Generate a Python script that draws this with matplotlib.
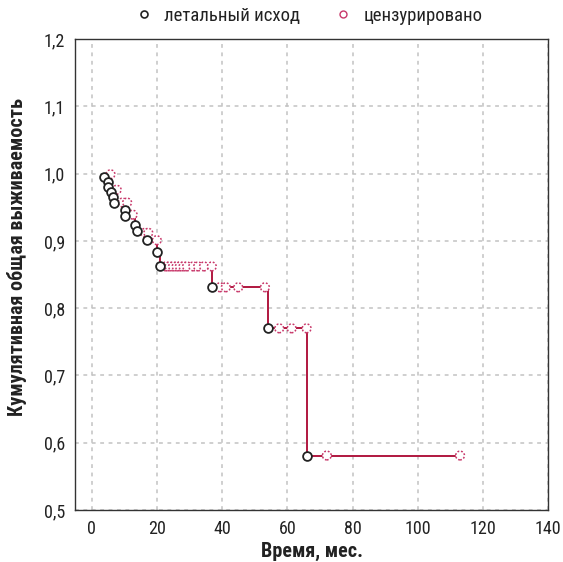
import matplotlib
matplotlib.use("Agg")
import matplotlib.pyplot as plt
from matplotlib import font_manager
from matplotlib.lines import Line2D

# ---- data ----
event_times = [3.7, 4.9, 4.9, 5.9, 6.5, 6.75, 10.0, 10.0, 13.3, 13.9, 16.8, 20.0, 20.9, 36.8, 53.9, 65.9]
event_surv = [0.995, 0.988, 0.980, 0.973, 0.965, 0.956, 0.946, 0.937, 0.924, 0.914, 0.901, 0.883, 0.862, 0.831, 0.770, 0.581]

cens_times = [5.7, 7.6, 9.4, 10.8, 12.5, 16.3, 17.3, 19.9,
              22.7, 23.8, 24.9, 26.0, 27.0, 28.1, 29.2, 31.1, 32.6, 34.4, 36.8,
              39.3, 41.1, 44.9, 53.1,
              57.5, 61.3, 65.9,
              72.1, 113.0]
cens_surv = [0.999, 0.976, 0.957, 0.957, 0.939, 0.912, 0.912, 0.901,
             0.862, 0.862, 0.862, 0.862, 0.862, 0.862, 0.862, 0.862, 0.862, 0.862, 0.862,
             0.831, 0.831, 0.831, 0.831,
             0.770, 0.770, 0.770,
             0.581, 0.581]

x_ticks = [0, 20, 40, 60, 80, 100, 120, 140]
y_ticks = [0.5, 0.6, 0.7, 0.8, 0.9, 1.0, 1.1, 1.2]
y_tick_labels = ["0,5", "0,6", "0,7", "0,8", "0,9", "1,0", "1,1", "1,2"]
legend_labels = ["летальный исход", "цензурировано"]
x_label = "Время, мес."
y_label = "Кумулятивная общая выживаемость"

# ---- fonts ----
names = {f.name for f in font_manager.fontManager.ttflist}
cands = ["Roboto Condensed", "PT Sans Narrow", "Fira Sans Condensed", "IBM Plex Sans Condensed",
         "Open Sans Condensed", "Liberation Sans Narrow", "Archivo Narrow", "Oswald"]
fam = next((c for c in cands if c in names), "DejaVu Sans")
plt.rcParams["font.family"] = [fam, "DejaVu Sans"]

line_col = "#b0173f"
cens_col = "#c8386a"
txt_col = "#222222"

fig = plt.figure(figsize=(5.63, 5.62), dpi=100)
ax = fig.add_axes([0.1332, 0.0925, 0.9734 - 0.1332, 0.9306 - 0.0925])

# step path from event data, extended to last censored time
px, py = [], []
for i, (t, s) in enumerate(zip(event_times, event_surv)):
    if i > 0:
        px.append(t); py.append(event_surv[i - 1])
    px.append(t); py.append(s)
px.append(max(cens_times)); py.append(event_surv[-1])
ax.plot(px, py, color=line_col, lw=1.4, zorder=2)

ax.scatter(cens_times, cens_surv, s=40, facecolors="white", edgecolors=cens_col,
           linewidths=1.1, linestyles=(0, (1.2, 1.2)), zorder=3)
ax.scatter(event_times, event_surv, s=40, facecolors="white", edgecolors="#222222",
           linewidths=1.3, zorder=4)

ax.set_xlim(-5.2, 140)
ax.set_ylim(0.5, 1.2)
ax.set_xticks(x_ticks)
ax.set_yticks(y_ticks)
ax.set_yticklabels(y_tick_labels)
ax.tick_params(length=0, labelsize=13, colors=txt_col, pad=7)
ax.grid(True, linestyle=(0, (2.5, 3)), color="#c2c2c2", lw=1.1)
for sp in ax.spines.values():
    sp.set_color("#333333")
    sp.set_linewidth(1.0)

ax.set_xlabel(x_label, fontsize=14.5, fontweight="bold", color=txt_col, labelpad=3)
ax.set_ylabel(y_label, fontsize=14.5, fontweight="bold", color=txt_col)
ax.yaxis.set_label_coords(-0.101, 0.537)

handles = [
    Line2D([], [], marker="o", linestyle="none", markersize=5, markerfacecolor="white",
           markeredgecolor="#222222", markeredgewidth=1.2),
    Line2D([], [], marker="o", linestyle="none", markersize=5, markerfacecolor="white",
           markeredgecolor=cens_col, markeredgewidth=1.0),
]
fig.legend(handles, legend_labels, loc="center", bbox_to_anchor=(0.54, 0.972), ncol=2,
           frameon=False, fontsize=13.5, handletextpad=0.1, columnspacing=1.3,
           labelcolor=txt_col)

fig.savefig("out.png", dpi=100)
